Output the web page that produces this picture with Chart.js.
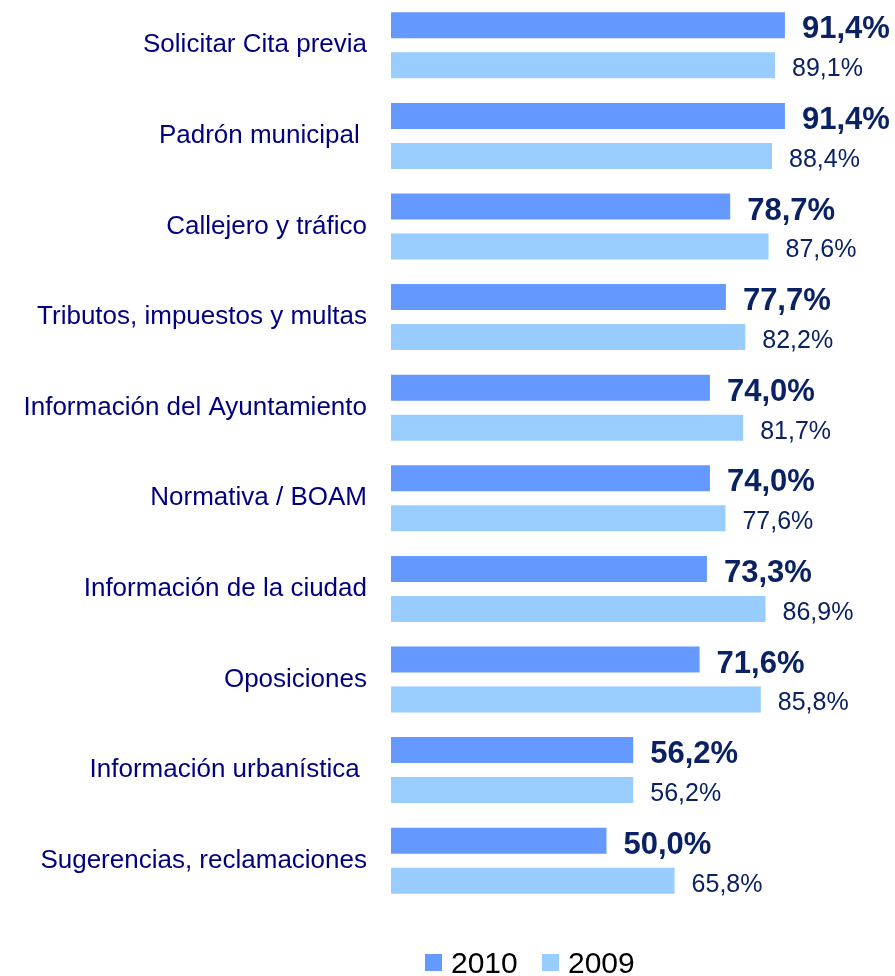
<!DOCTYPE html>
<html>
<head>
<meta charset="utf-8">
<script src="https://cdn.jsdelivr.net/npm/chart.js@4/dist/chart.umd.min.js"></script>
<style>
  body { margin: 0; background: #fff; }
  #wrap { position: relative; width: 895px; height: 976px; }
  .leyenda { position: absolute; top: 948px; font-family: "Liberation Sans", Arial, sans-serif; font-size: 30px; color: #000; line-height: 30px; }
  .leyenda span.cuadro { position: absolute; width: 17px; height: 17px; top: 6px; }
</style>
</head>
<body>
<div id="wrap">
  <canvas id="grafico" width="895" height="976"></canvas>
  <div class="leyenda" style="left:425px"><span class="cuadro" style="left:0;background:#6699ff"></span><span style="margin-left:26px">2010</span></div>
  <div class="leyenda" style="left:542px"><span class="cuadro" style="left:0;background:#99ccff"></span><span style="margin-left:26px">2009</span></div>
</div>
<script>
// Categorías y valores (en %)
const categorias = [
  'Solicitar Cita previa',
  'Padrón municipal ',
  'Callejero y tráfico',
  'Tributos, impuestos y multas',
  'Información del Ayuntamiento',
  'Normativa / BOAM',
  'Información de la ciudad',
  'Oposiciones',
  'Información urbanística ',
  'Sugerencias, reclamaciones'
];
const valores2010 = [91.4, 91.4, 78.7, 77.7, 74.0, 74.0, 73.3, 71.6, 56.2, 50.0];
const valores2009 = [89.1, 88.4, 87.6, 82.2, 81.7, 77.6, 86.9, 85.8, 56.2, 65.8];

const fuente = '"Liberation Sans", Arial, sans-serif';

// Etiquetas de valor al final de cada barra
const etiquetas = {
  id: 'etiquetas',
  afterDatasetsDraw(chart) {
    const ctx = chart.ctx;
    ctx.save();
    ctx.fillStyle = '#0a2263';
    ctx.textAlign = 'left';
    ctx.textBaseline = 'alphabetic';
    chart.data.datasets.forEach((ds, i) => {
      const meta = chart.getDatasetMeta(i);
      const negrita = i === 0;
      ctx.font = (negrita ? 'bold 31px ' : '25px ') + fuente;
      meta.data.forEach((bar, j) => {
        const txt = ds.data[j].toFixed(1).replace('.', ',') + '%';
        ctx.fillText(txt, bar.x + 17, bar.y + (negrita ? 13 : 11));
      });
    });
    ctx.restore();
  }
};

new Chart(document.getElementById('grafico').getContext('2d'), {
  type: 'bar',
  data: {
    labels: categorias,
    datasets: [
      { label: '2010', data: valores2010, backgroundColor: '#6699ff', categoryPercentage: 0.883, barPercentage: 0.65 },
      { label: '2009', data: valores2009, backgroundColor: '#99ccff', categoryPercentage: 0.883, barPercentage: 0.65 }
    ]
  },
  options: {
    indexAxis: 'y',
    responsive: false,
    animation: false,
    layout: { padding: { left: 0, right: 73, top: 0, bottom: 70 } },
    plugins: { legend: { display: false }, tooltip: { enabled: false } },
    scales: {
      x: { display: false, min: 0, max: 100 },
      y: {
        grid: { display: false, drawTicks: false },
        border: { display: false },
        ticks: { color: '#000080', font: { family: fuente, size: 26 }, padding: 24, autoSkip: false },
        afterFit: s => {
          s.width = 391;
          // sin margen extra arriba/abajo por las etiquetas
          s.paddingTop = 0;
          s.paddingBottom = 0;
        }
      }
    }
  },
  plugins: [etiquetas]
});
</script>
</body>
</html>
